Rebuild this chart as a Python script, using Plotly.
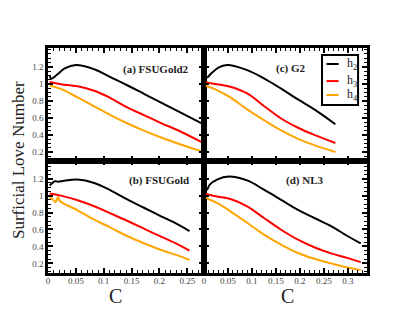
import plotly.graph_objects as go
from plotly.subplots import make_subplots

# (a) FSUGold2
c_a_h2 = [0.003, 0.006, 0.015, 0.03, 0.05, 0.083, 0.113, 0.143, 0.173, 0.203, 0.233, 0.275]
h2_a = [1.09, 1.06, 1.1, 1.18, 1.22, 1.17, 1.075, 0.98, 0.88, 0.78, 0.68, 0.538]
c_a = [0.003, 0.023, 0.053, 0.083, 0.113, 0.143, 0.173, 0.203, 0.233, 0.275]
h3_a = [1.02, 0.996, 0.97, 0.918, 0.83, 0.72, 0.63, 0.538, 0.455, 0.318]
h4_a = [0.98, 0.94, 0.84, 0.734, 0.63, 0.534, 0.447, 0.37, 0.30, 0.21]

# (b) FSUGold
c_b_h2 = [0.003, 0.008, 0.012, 0.018, 0.029, 0.053, 0.083, 0.113, 0.143, 0.173, 0.203, 0.233, 0.254]
h2_b = [1.12, 1.15, 1.17, 1.165, 1.175, 1.19, 1.15, 1.06, 0.953, 0.854, 0.756, 0.66, 0.58]
c_b_h3 = [0.003, 0.023, 0.053, 0.083, 0.113, 0.143, 0.173, 0.203, 0.233, 0.254]
h3_b = [1.024, 1.0, 0.945, 0.874, 0.788, 0.70, 0.607, 0.515, 0.425, 0.35]
c_b_h4 = [0.003, 0.008, 0.0135, 0.018, 0.021, 0.053, 0.083, 0.113, 0.143, 0.173, 0.203, 0.233, 0.254]
h4_b = [0.98, 0.96, 0.925, 0.985, 0.94, 0.827, 0.717, 0.62, 0.52, 0.435, 0.357, 0.294, 0.24]

# (c) G2
c_c_h2 = [0.004, 0.0063, 0.015, 0.03, 0.048, 0.09, 0.125, 0.16, 0.195, 0.23, 0.274]
h2_c = [1.09, 1.075, 1.12, 1.19, 1.22, 1.16, 1.063, 0.946, 0.82, 0.70, 0.526]
c_c = [0.004, 0.027, 0.055, 0.09, 0.125, 0.16, 0.195, 0.23, 0.274]
h3_c = [1.016, 0.996, 0.965, 0.887, 0.74, 0.596, 0.487, 0.40, 0.306]
h4_c = [0.977, 0.926, 0.84, 0.70, 0.573, 0.455, 0.357, 0.28, 0.2]

# (d) NL3
c_d_h2 = [0.004, 0.0063, 0.012, 0.027, 0.052, 0.09, 0.125, 0.16, 0.195, 0.23, 0.265, 0.30, 0.327]
h2_d = [1.09, 1.07, 1.13, 1.19, 1.227, 1.18, 1.07, 0.953, 0.835, 0.736, 0.64, 0.52, 0.435]
c_d = [0.004, 0.027, 0.055, 0.09, 0.125, 0.16, 0.195, 0.23, 0.265, 0.30, 0.327]
h3_d = [1.02, 0.99, 0.96, 0.874, 0.736, 0.60, 0.482, 0.39, 0.318, 0.262, 0.215]
h4_d = [0.972, 0.913, 0.815, 0.68, 0.54, 0.424, 0.325, 0.254, 0.2, 0.15, 0.12]

y_ticks = [0.2, 0.4, 0.6, 0.8, 1, 1.2]
y_ticktext = ["0.2", "0.4", "0.6", "0.8", "1", "1.2"]

panels = [
    (1, 1, [(c_a_h2, h2_a), (c_a, h3_a), (c_a, h4_a)]),
    (1, 2, [(c_c_h2, h2_c), (c_c, h3_c), (c_c, h4_c)]),
    (2, 1, [(c_b_h2, h2_b), (c_b_h3, h3_b), (c_b_h4, h4_b)]),
    (2, 2, [(c_d_h2, h2_d), (c_d, h3_d), (c_d, h4_d)]),
]
colors = ["black", "#ff0000", "#ffa500"]
names = ["h<sub>2</sub>", "h<sub>3</sub>", "h<sub>4</sub>"]
serif = "Liberation Serif, Times New Roman, serif"

fig = make_subplots(rows=2, cols=2, column_widths=[156, 163],
                    horizontal_spacing=0, vertical_spacing=0)

for row, col, series in panels:
    for (cx, cy), colr, nm in zip(series, colors, names):
        fig.add_trace(go.Scatter(x=cx, y=cy, mode="lines", name=nm,
                                 line=dict(color=colr, width=2, shape="spline", smoothing=1.1),
                                 showlegend=False), row=row, col=col)

axis_common = dict(showline=True, linecolor="black", linewidth=2.5, mirror="allticks",
                   ticks="inside", ticklen=5, tickwidth=1.5, tickcolor="black",
                   showgrid=False, zeroline=False,
                   tickfont=dict(family=serif, size=9, color="#444444"))

for row in (1, 2):
    for col in (1, 2):
        xr = [0, 0.28] if col == 1 else [0, 0.34]
        yr = [0.1, 1.42] if row == 1 else [0.086, 1.415]
        fig.update_xaxes(range=xr, dtick=0.05, tick0=0, ticklabelstandoff=-3,
                         minor=dict(ticks="inside", ticklen=3, dtick=0.01, tickcolor="black", tickwidth=1),
                         showticklabels=(row == 2), row=row, col=col, **axis_common)
        fig.update_yaxes(range=yr, tickvals=y_ticks, ticktext=y_ticktext,
                         minor=dict(ticks="inside", ticklen=3, dtick=0.05, tick0=0,
                                    tickcolor="black", tickwidth=1),
                         showticklabels=(col == 1), row=row, col=col, **axis_common)

# panel labels
label_pos = [("(a) FSUGold2", "x", "y", 0.915, 0.81, "right"),
             ("(c) G2", "x2", "y2", 0.534, 0.82, "center"),
             ("(b) FSUGold", "x3", "y3", 0.915, 0.823, "right"),
             ("(d) NL3", "x4", "y4", 0.617, 0.823, "center")]
for txt, xa, ya, xx, yy, anc in label_pos:
    fig.add_annotation(text="<b>%s</b>" % txt, xref=xa + " domain", yref=ya + " domain",
                       x=xx, y=yy, xanchor=anc, yanchor="middle", showarrow=False,
                       font=dict(family=serif, size=11, color="#222"))

# axis titles
for xx in (0.213, 0.752):
    fig.add_annotation(text="C", xref="paper", yref="paper", x=xx, y=-0.1, showarrow=False,
                       xanchor="center", yanchor="middle",
                       font=dict(family=serif, size=20, color="#222"))
fig.add_annotation(text="Surficial Love Number", xref="paper", yref="paper", x=-0.094, y=0.502,
                   textangle=-90, showarrow=False, xanchor="center", yanchor="middle",
                   font=dict(family=serif, size=17, color="#222"))

# legend box (drawn by hand to keep it compact)
fig.add_shape(type="rect", xref="paper", yref="paper", x0=0.859, x1=0.972, y0=0.747, y1=0.969,
              line=dict(color="black", width=2), fillcolor="white", layer="above")
leg_y = [0.929, 0.853, 0.791]
for yy, colr, nm in zip(leg_y, colors, names):
    fig.add_shape(type="line", xref="paper", yref="paper", x0=0.873, x1=0.911, y0=yy, y1=yy,
                  line=dict(color=colr, width=2), layer="above")
    fig.add_annotation(text=nm, xref="paper", yref="paper", x=0.932, y=yy, xanchor="left",
                       yanchor="middle", showarrow=False,
                       font=dict(family=serif, size=12, color="#222"))

# page body has an 8px margin, so the figure is sized/offset to compensate
fig.update_layout(width=407, height=313, margin=dict(l=40, r=48, t=40, b=48),
                  plot_bgcolor="white", paper_bgcolor="white", showlegend=False)

fig.write_html("out.html")
